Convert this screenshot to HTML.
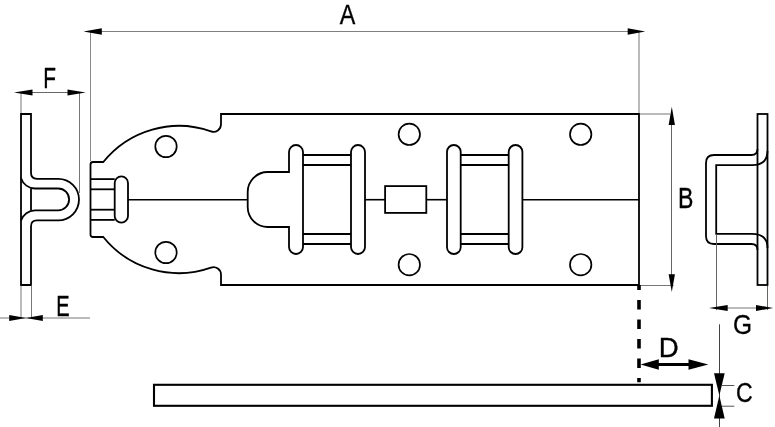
<!DOCTYPE html>
<html><head><meta charset="utf-8"><style>
html,body{margin:0;padding:0;background:#fff;}
svg{display:block;}
text{will-change:transform;}
text{font-family:"Liberation Sans",sans-serif;font-size:28px;fill:#000;stroke:#000;stroke-width:0.35px;}
</style></head><body>
<svg width="775" height="427" viewBox="0 0 775 427">
<rect width="775" height="427" fill="#fff"/>
<g fill="none" stroke="#000" stroke-width="1.8" stroke-linejoin="miter" stroke-linecap="butt">
<path d="M90.5,164.5 Q90.5,162 93.0,162 L103.3,162 A97,97 0 0 1 210.98,131.33 A7.5,7.5 0 0 0 221,124.27 L221,114 L639,114 L639,285.0 L221,285.0 L221,274.73 A7.5,7.5 0 0 0 210.98,267.67 A97,97 0 0 1 103.3,237.0 L93.0,237.0 Q90.5,237.0 90.5,234.5 Z"/>
<circle cx="166" cy="146.5" r="10.7" stroke-width="1.7"/>
<circle cx="166" cy="252.5" r="10.7" stroke-width="1.7"/>
<circle cx="409.3" cy="134.3" r="10.7" stroke-width="1.7"/>
<circle cx="409.3" cy="264.7" r="10.7" stroke-width="1.7"/>
<circle cx="580.7" cy="134.3" r="10.7" stroke-width="1.7"/>
<circle cx="580.7" cy="264.7" r="10.7" stroke-width="1.7"/>
<line x1="90.5" y1="179.1" x2="114.7" y2="179.1"/>
<line x1="90.5" y1="219.9" x2="114.7" y2="219.9"/>
<line x1="90.5" y1="189.3" x2="114.7" y2="189.3"/>
<line x1="90.5" y1="209.7" x2="114.7" y2="209.7"/>
<path d="M114.7,183.05 A6.649999999999999,6.649999999999999 0 0 1 128.0,183.05 L128.0,215.95 A6.649999999999999,6.649999999999999 0 0 1 114.7,215.95 Z"/>
<line x1="128" y1="199.7" x2="247.7" y2="199.7" stroke-width="1.6"/>
<line x1="365" y1="199.7" x2="385.1" y2="199.7" stroke-width="1.6"/>
<line x1="426.3" y1="199.7" x2="447" y2="199.7" stroke-width="1.6"/>
<line x1="522.4" y1="199.7" x2="639" y2="199.7" stroke-width="1.6"/>
<path d="M289,227 L267.7,227 A20,20 0 0 1 247.7,207 L247.7,192 A20,20 0 0 1 267.7,172 L289,172 L289,152.0 A7.0,7.0 0 0 1 303,152.0 L303,247.0 A7.0,7.0 0 0 1 289,247.0 Z"/>
<path d="M351,152.0 A7.0,7.0 0 0 1 365,152.0 L365,247.0 A7.0,7.0 0 0 1 351,247.0 Z"/>
<line x1="303" y1="155" x2="351" y2="155"/>
<line x1="303" y1="244.0" x2="351" y2="244.0"/>
<line x1="303" y1="165" x2="351" y2="165"/>
<line x1="303" y1="234.0" x2="351" y2="234.0"/>
<path d="M447,151.85 A6.849999999999994,6.849999999999994 0 0 1 460.7,151.85 L460.7,247.15 A6.849999999999994,6.849999999999994 0 0 1 447,247.15 Z"/>
<path d="M508.7,151.85 A6.849999999999994,6.849999999999994 0 0 1 522.4,151.85 L522.4,247.15 A6.849999999999994,6.849999999999994 0 0 1 508.7,247.15 Z"/>
<line x1="460.7" y1="155" x2="508.7" y2="155"/>
<line x1="460.7" y1="244.0" x2="508.7" y2="244.0"/>
<line x1="460.7" y1="165" x2="508.7" y2="165"/>
<line x1="460.7" y1="234.0" x2="508.7" y2="234.0"/>
<rect x="385.1" y="186.1" width="41.2" height="26.80000000000001"/>
<line x1="21" y1="114" x2="21" y2="285" stroke-linecap="square"/>
<path d="M21,114 L31,114 L31,172.8 Q31,178.8 37,178.8 L58.2,178.8 A20.8,20.8 0 0 1 58.2,220.4 L37,220.4 Q31,220.4 31,226.4 L31,285 L21,285"/>
<path d="M21,178.3 A15,15 0 0 0 35,188.5 L58.2,188.5 A10.9,10.9 0 0 1 58.2,210.3 L35,210.3 A15,15 0 0 0 21,220.5"/>
<line x1="31" y1="188.5" x2="31" y2="210.3"/>
<rect x="757.5" y="114" width="10" height="171"/>
<path d="M757.5,149 Q757.5,155 751.5,155 L714,155 Q706,155 706,163 L706,236.0 Q706,244.0 714,244.0 L751.5,244.0 Q757.5,244.0 757.5,250.0"/>
<path d="M767.5,151 Q767.5,165.2 752,165.2 L716.2,165.2 L716.2,233.8 L752,233.8 Q767.5,233.8 767.5,248.0"/>
<rect x="154" y="384.8" width="557.9" height="21" stroke-width="2.1"/>
</g>
<g fill="none">
<line x1="96" y1="31.5" x2="634" y2="31.5" stroke="#808080" stroke-width="1"/>
<line x1="90.5" y1="31.5" x2="90.5" y2="161" stroke="#888" stroke-width="1"/>
<line x1="639" y1="31.5" x2="639" y2="113" stroke="#777" stroke-width="1"/>
<line x1="25" y1="92.5" x2="80" y2="92.5" stroke="#666" stroke-width="1"/>
<line x1="21" y1="92.5" x2="21" y2="113" stroke="#777" stroke-width="1"/>
<line x1="79.5" y1="92.5" x2="79.5" y2="193" stroke="#777" stroke-width="1"/>
<line x1="0" y1="318" x2="90" y2="318" stroke="#777" stroke-width="1"/>
<line x1="21" y1="285.5" x2="21" y2="318" stroke="#777" stroke-width="1"/>
<line x1="31.5" y1="285.5" x2="31.5" y2="318" stroke="#777" stroke-width="1"/>
<line x1="671.5" y1="110" x2="671.5" y2="288" stroke="#666" stroke-width="1"/>
<line x1="640" y1="114" x2="670" y2="114" stroke="#777" stroke-width="1"/>
<line x1="640" y1="285.5" x2="673.7" y2="285.5" stroke="#777" stroke-width="1"/>
<line x1="715" y1="308" x2="768" y2="308" stroke="#777" stroke-width="1"/>
<line x1="716.5" y1="234.5" x2="716.5" y2="310" stroke="#666" stroke-width="1"/>
<line x1="767.5" y1="286" x2="767.5" y2="310" stroke="#666" stroke-width="1"/>
<line x1="719.5" y1="324.3" x2="719.5" y2="427" stroke="#444" stroke-width="1"/>
<line x1="722" y1="385.5" x2="734.3" y2="385.5" stroke="#555" stroke-width="1"/>
<line x1="722" y1="406.2" x2="734.3" y2="406.2" stroke="#555" stroke-width="1"/>
<line x1="650" y1="364.5" x2="700" y2="364.5" stroke="#000" stroke-width="3"/>
<line x1="639" y1="285" x2="639" y2="382.3" stroke="#000" stroke-width="3.6" stroke-dasharray="9.5 10" stroke-dashoffset="4.5"/>
<path d="M83.50,31.50 L101.80,28.30 L101.80,34.70 Z" fill="#000"/>
<path d="M645.30,31.50 L627.70,34.70 L627.70,28.30 Z" fill="#000"/>
<path d="M14.00,92.50 L32.50,89.40 L32.50,95.60 Z" fill="#000"/>
<path d="M85.70,92.50 L67.50,95.60 L67.50,89.40 Z" fill="#000"/>
<path d="M26.00,318.00 L9.20,321.00 L9.20,315.00 Z" fill="#000"/>
<path d="M26.00,318.00 L42.80,315.00 L42.80,321.00 Z" fill="#000"/>
<path d="M671.80,106.70 L674.95,125.00 L668.65,125.00 Z" fill="#000"/>
<path d="M671.80,292.10 L668.65,274.20 L674.95,274.20 Z" fill="#000"/>
<path d="M709.00,308.00 L727.70,305.10 L727.70,310.90 Z" fill="#000"/>
<path d="M773.30,308.00 L756.00,310.90 L756.00,305.10 Z" fill="#000"/>
<path d="M719.35,395.50 L714.00,373.20 L724.70,373.20 Z" fill="#000"/>
<path d="M719.35,395.50 L724.70,418.40 L714.00,418.40 Z" fill="#000"/>
<path d="M640.50,364.50 L658.80,359.35 L658.80,369.65 Z" fill="#000"/>
<path d="M708.30,364.50 L688.50,369.65 L688.50,359.35 Z" fill="#000"/>
</g>
<g>
<text transform="matrix(0.8324,0,0,0.9845,339.82,23.60)">A</text>
<text transform="matrix(0.7445,0,0,1.0311,43.29,87.90)">F</text>
<text transform="matrix(0.7171,0,0,1.0259,56.35,315.80)">E</text>
<text transform="matrix(0.8255,0,0,1.0259,678.00,208.20)">B</text>
<text transform="matrix(0.8743,0,0,0.9848,733.08,334.10)">G</text>
<text transform="matrix(0.9880,0,0,1.0000,658.63,357.00)">D</text>
<text transform="matrix(0.8249,0,0,1.0000,735.95,401.90)">C</text>
</g>
</svg>
</body></html>
